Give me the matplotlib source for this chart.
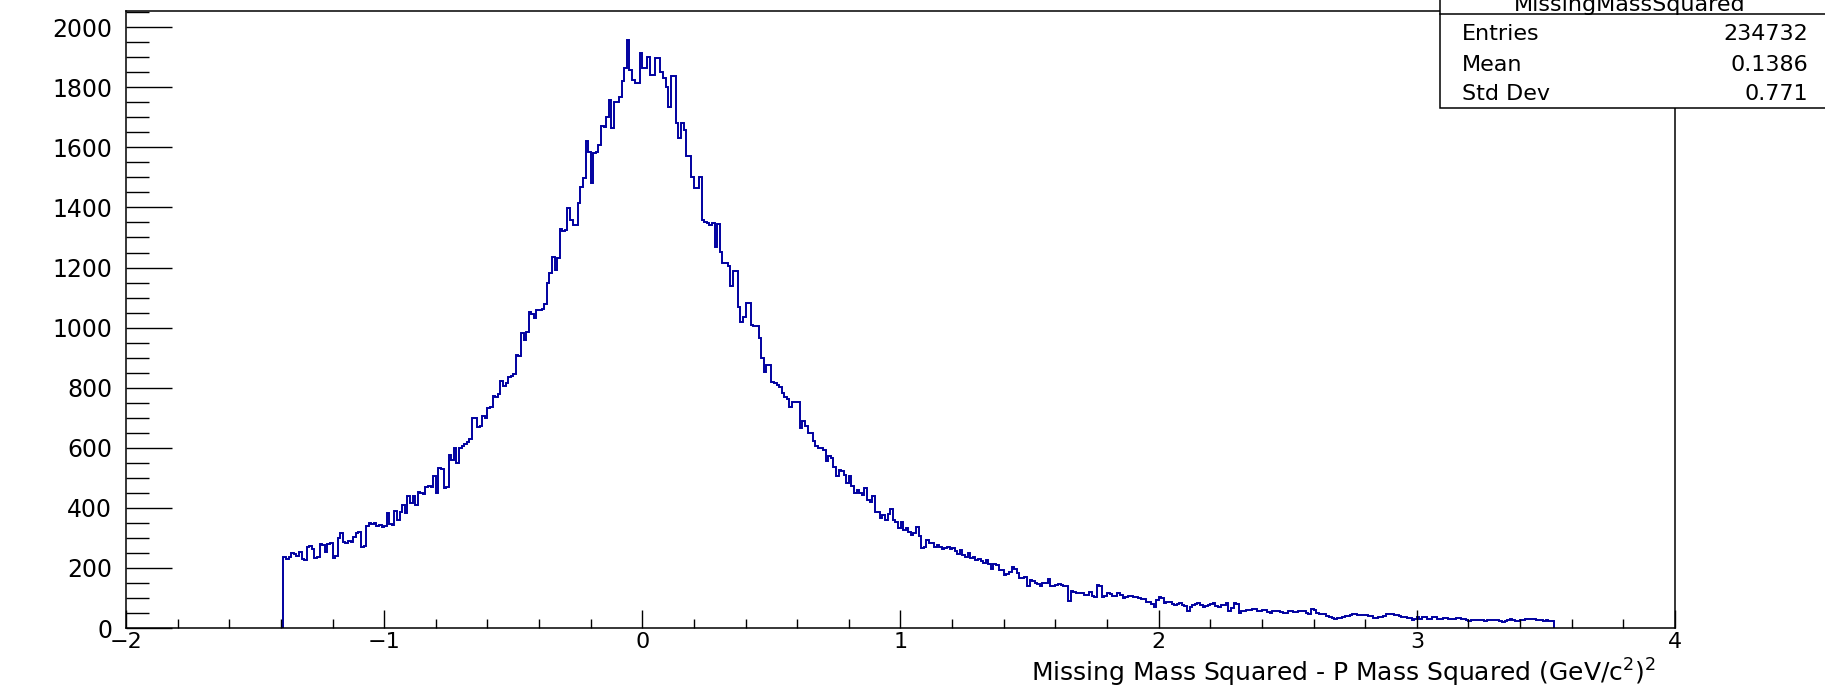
import numpy as np
import matplotlib
matplotlib.use("Agg")
import matplotlib.pyplot as plt
from matplotlib.patches import Rectangle
from matplotlib.lines import Line2D
from matplotlib.ticker import MultipleLocator

plt.rcParams['font.family'] = ['DejaVu Sans']
plt.rcParams['mathtext.fontset'] = 'dejavusans'

# ---------------- data (bin width 0.01, first bin starts at -1.39) ----------------
bin_width = 0.01
first_edge = -1.39

counts_left = [  # -1.39 .. -0.41
    235, 230, 236, 250, 246, 240, 252, 231, 228,
    268, 272, 262, 234, 238, 280, 276, 252, 280, 283,
    232, 240, 300, 315, 285, 282, 290, 285, 303, 315,
    320, 270, 272, 340, 348, 345, 350, 338, 342, 336,
    340, 383, 345, 342, 389, 360, 385, 408, 382, 438,
    415, 440, 408, 452, 449, 447, 470, 472, 468, 505,
    450, 532, 530, 466, 470, 576, 560, 600, 549, 600,
    605, 612, 620, 628, 700, 698, 668, 672, 705, 700,
    732, 735, 771, 770, 780, 821, 805, 815, 837, 840,
    845, 909, 905, 981, 960, 985, 1053, 1045, 1031, 1058,
]
counts_peak = [  # -0.40 .. 0.34
    1059, 1062, 1078, 1148, 1181, 1236, 1192, 1231, 1328, 1322,
    1325, 1397, 1358, 1342, 1342, 1414, 1469, 1497, 1622, 1585,
    1480, 1580, 1585, 1608, 1672, 1668, 1700, 1758, 1664, 1752,
    1750, 1768, 1821, 1864, 1956, 1858, 1825, 1814, 1814, 1914,
    1864, 1863, 1902, 1842, 1842, 1899, 1899, 1852, 1830, 1802,
    1736, 1836, 1836, 1681, 1631, 1681, 1659, 1570, 1570, 1503,
    1464, 1464, 1503, 1358, 1352, 1347, 1342, 1347, 1270, 1345,
    1253, 1214, 1214, 1205, 1137,
]
counts_fall = [  # 0.35 .. 1.34
    1187, 1187, 1070, 1020, 1036, 1081, 1081, 1009, 1005, 1005,
    966, 899, 853, 876, 876, 820, 815, 809, 803, 781,
    770, 764, 737, 753, 753, 753, 666, 688, 672, 649,
    650, 622, 605, 600, 600, 594, 556, 572, 566, 537,
    505, 527, 522, 511, 483, 505, 472, 450, 461, 450,
    444, 466, 427, 420, 438, 387, 387, 365, 376, 360,
    381, 397, 360, 354, 332, 354, 326, 332, 321, 310,
    315, 337, 305, 266, 271, 293, 282, 282, 271, 277,
    271, 262, 266, 271, 262, 266, 255, 248, 260, 242,
    236, 250, 232, 238, 226, 230, 222, 218, 226, 212,
]
counts_tail1 = [  # 1.35 .. 2.49
    198, 212, 210, 193, 192, 176, 180, 188, 202, 196,
    182, 166, 168, 169, 139, 160, 158, 149, 148, 139,
    149, 150, 162, 139, 141, 144, 145, 144, 140, 139,
    90, 122, 121, 118, 116, 115, 110, 111, 121, 105,
    104, 144, 140, 104, 106, 116, 112, 106, 108, 116,
    110, 99, 103, 106, 105, 104, 102, 101, 95, 96,
    88, 87, 80, 71, 93, 104, 100, 84, 85, 87,
    80, 76, 80, 82, 75, 73, 55, 70, 76, 80,
    82, 75, 71, 72, 76, 80, 82, 74, 71, 76,
    77, 82, 57, 68, 84, 80, 51, 55, 58, 60,
    61, 63, 62, 56, 55, 60, 59, 52, 51, 58,
    57, 55, 54, 50, 49,
]
counts_tail2 = [  # 2.50 .. 3.52
    58, 56, 54, 54, 56, 58, 55, 51, 45, 62,
    60, 49, 48, 47, 46, 40, 37, 33, 30, 33,
    34, 35, 39, 40, 44, 47, 46, 43, 43, 42,
    44, 40, 40, 32, 33, 38, 38, 40, 47, 48,
    46, 43, 42, 40, 38, 36, 32, 32, 27, 30,
    38, 29, 35, 36, 29, 30, 36, 35, 31, 31,
    32, 33, 31, 30, 30, 32, 33, 29, 29, 27,
    22, 27, 27, 27, 28, 26, 24, 25, 26, 27,
    28, 26, 24, 21, 24, 26, 29, 28, 24, 24,
    27, 27, 29, 30, 29, 30, 27, 26, 27, 24,
    25, 24, 24,
]

stats_title = "MissingMassSquared"
stats_labels = ["Entries", "Mean", "Std Dev"]
stats_values = ["234732", "0.1386", "0.771"]

x_label = r"Missing Mass Squared - P Mass Squared (GeV/c$^{2}$)$^{2}$"

# ---------------- figure ----------------
W, H = 1825, 690
fig = plt.figure(figsize=(W / 100, H / 100), dpi=100)
fig.patch.set_facecolor("white")

ax_l, ax_r, ax_t, ax_b = 126, 1675, 11, 628  # pixel positions (from top)
ax = fig.add_axes([ax_l / W, (H - ax_b) / H, (ax_r - ax_l) / W, (ax_b - ax_t) / H])

counts = np.array(counts_left + counts_peak + counts_fall + counts_tail1 + counts_tail2, dtype=float)
edges = first_edge + bin_width * np.arange(len(counts) + 1)

ax.stairs(counts, edges, color="#0000a0", linewidth=1.4, baseline=0)

ax.set_xlim(-2, 4)
ax.set_ylim(0, 2054)

for s in ax.spines.values():
    s.set_linewidth(1.1)
    s.set_color("black")

ax.xaxis.set_major_locator(MultipleLocator(1))
ax.xaxis.set_minor_locator(MultipleLocator(0.2))
ax.yaxis.set_major_locator(MultipleLocator(200))
ax.yaxis.set_minor_locator(MultipleLocator(50))

ax.tick_params(axis="x", which="major", direction="in", length=13.3, width=1.0,
               labelsize=16, pad=3, top=False)
ax.tick_params(axis="x", which="minor", direction="in", length=6.7, width=1.0, top=False)
ax.tick_params(axis="y", which="major", direction="in", length=33, width=1.0,
               labelsize=17, pad=10, right=False)
ax.tick_params(axis="y", which="minor", direction="in", length=16.6, width=1.0, right=False)

ax.set_xlabel(x_label, fontsize=18, ha="right", va="baseline")
ax.xaxis.set_label_coords((1656 - ax_l) / (ax_r - ax_l), -(682 - ax_b) / (ax_b - ax_t))

# ---------------- stats box ----------------
bx0, by_bot, by_sep = 1440, 108, 14
box = Rectangle((bx0 / W, (H - by_bot) / H), (W - bx0) / W + 0.01, by_bot / H + 0.05,
                transform=fig.transFigure, facecolor="white", edgecolor="black",
                linewidth=1.1, zorder=10)
fig.add_artist(box)
fig.add_artist(Line2D([bx0 / W, 1.0], [(H - by_sep) / H] * 2, transform=fig.transFigure,
                      color="black", linewidth=1.1, zorder=11))
fig.text(1630 / W, (H - 11) / H, stats_title, ha="center", va="baseline",
         fontsize=16, zorder=12)
row_baselines = [40, 71, 100]
for lab, val, yb in zip(stats_labels, stats_values, row_baselines):
    fig.text(1462 / W, (H - yb) / H, lab, ha="left", va="baseline", fontsize=16, zorder=12)
    fig.text(1808 / W, (H - yb) / H, val, ha="right", va="baseline", fontsize=16, zorder=12)

fig.savefig("out.png", dpi=100)
